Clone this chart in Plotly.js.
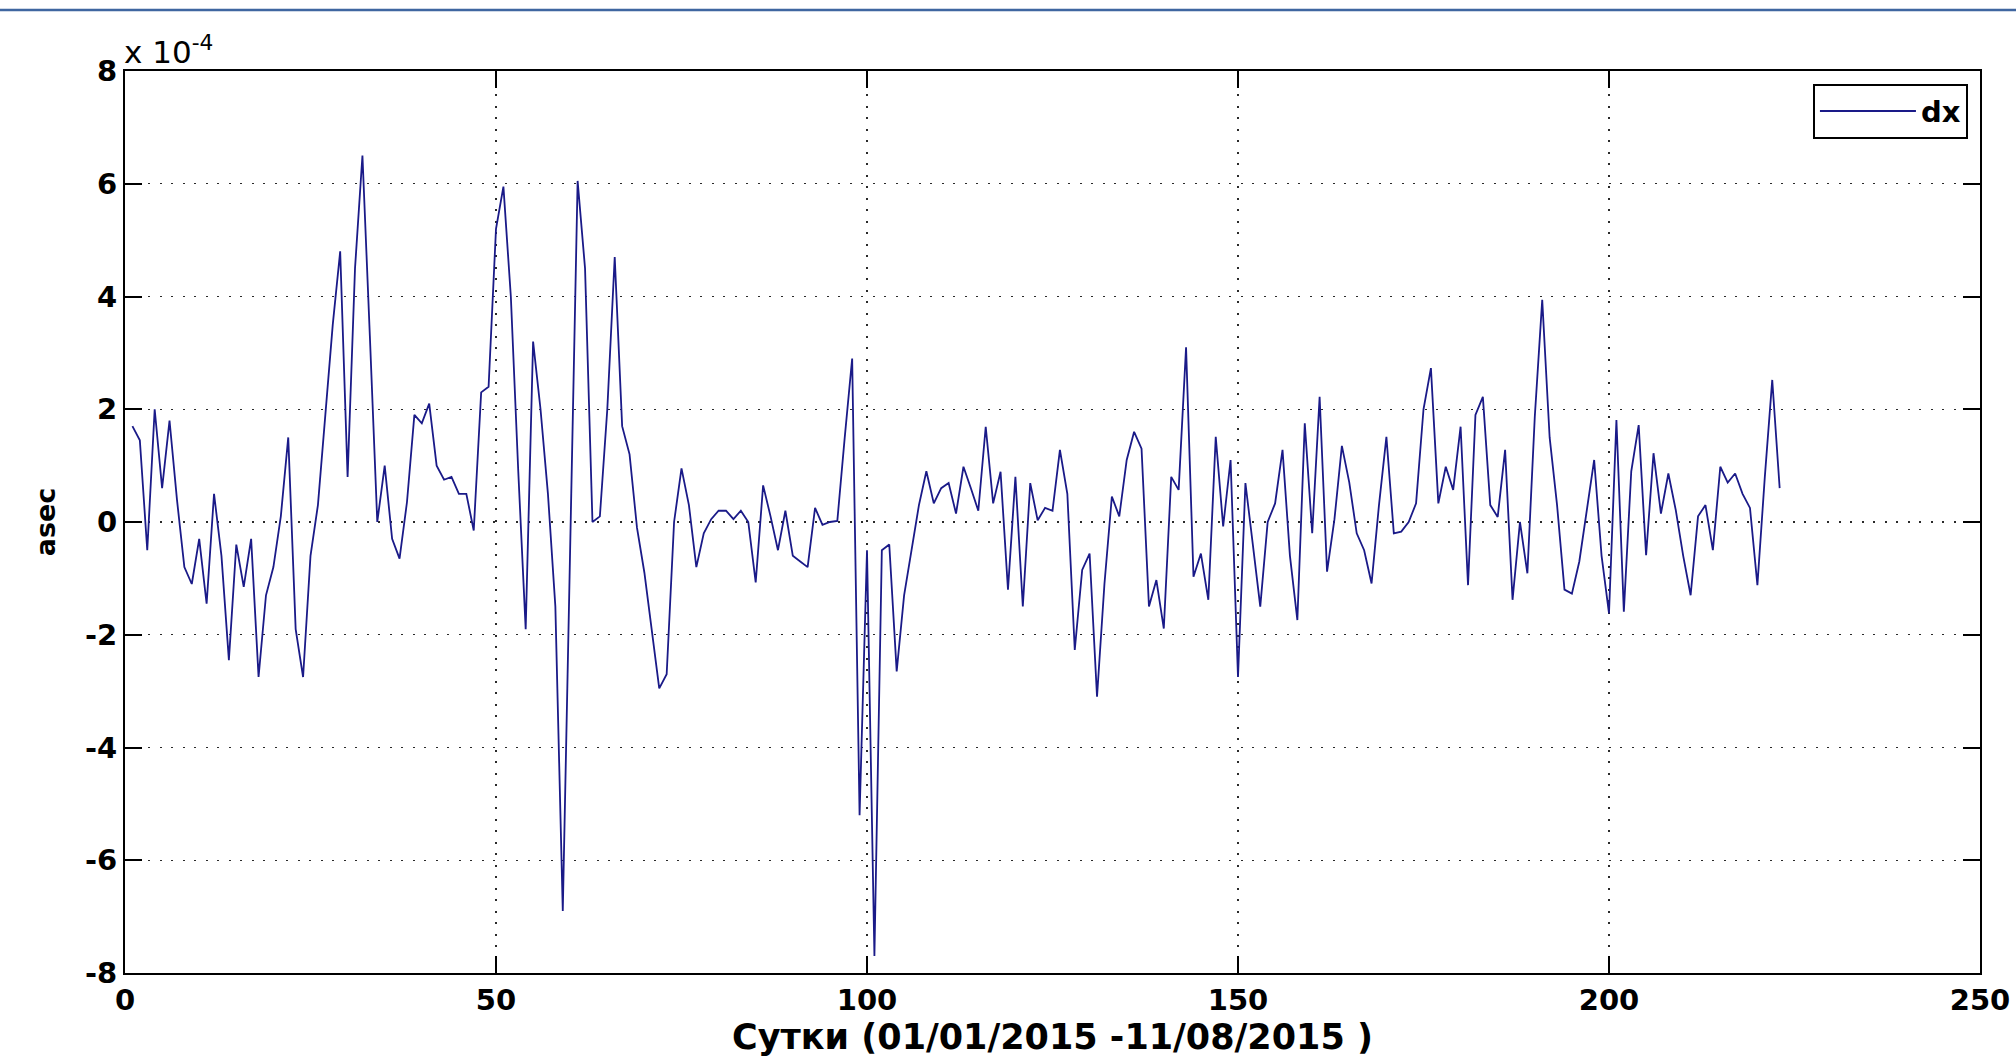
<!DOCTYPE html>
<html>
<head>
<meta charset="utf-8">
<script src="https://cdn.plot.ly/plotly-3.0.1.min.js"></script>
<style>
  html, body { margin: 0; padding: 0; background: #ffffff; }
  #chart { width: 2016px; height: 1063px; }
</style>
</head>
<body>
<div id="chart"></div>
<script>
// Day index (01/01/2015 .. 11/08/2015)
const days = [1,2,3,4,5,6,7,8,9,10,11,12,13,14,15,16,17,18,19,20,21,22,23,24,25,26,27,28,29,30,
31,32,33,34,35,36,37,38,39,40,41,42,43,44,45,46,47,48,49,50,51,52,53,54,55,56,57,58,59,60,
61,62,63,64,65,66,67,68,69,70,71,72,73,74,75,76,77,78,79,80,81,82,83,84,85,86,87,88,89,90,
91,92,93,94,95,96,97,98,99,100,101,102,103,104,105,106,107,108,109,110,111,112,113,114,115,116,117,118,119,120,
121,122,123,124,125,126,127,128,129,130,131,132,133,134,135,136,137,138,139,140,141,142,143,144,145,146,147,148,149,150,
151,152,153,154,155,156,157,158,159,160,161,162,163,164,165,166,167,168,169,170,171,172,173,174,175,176,177,178,179,180,
181,182,183,184,185,186,187,188,189,190,191,192,193,194,195,196,197,198,199,200,201,202,203,204,205,206,207,208,209,210,
211,212,213,214,215,216,217,218,219,220,221,222,223];

// dx values in units of 1e-4 asec
const dx = [
 1.7, 1.45, -0.5, 2.0, 0.6, 1.8, 0.4, -0.8, -1.1, -0.3,
 -1.45, 0.5, -0.6, -2.45, -0.4, -1.15, -0.3, -2.75, -1.3, -0.8,
 0.1, 1.5, -1.9, -2.75, -0.6, 0.3, 1.9, 3.5, 4.8, 0.8,
 4.5, 6.5, 3.3, 0.0, 1.0, -0.3, -0.65, 0.35, 1.9, 1.75,
 2.1, 1.0, 0.75, 0.8, 0.5, 0.5, -0.15, 2.3, 2.4, 5.2,
 5.95, 4.0, 0.9, -1.9, 3.2, 2.0, 0.5, -1.5, -6.9, -0.3,
 6.05, 4.5, 0.0, 0.1, 2.0, 4.7, 1.7, 1.2, -0.1, -0.9,
 -1.9, -2.95, -2.7, 0.0, 0.95, 0.3, -0.8, -0.2, 0.05, 0.2,
 0.2, 0.05, 0.2, 0.0, -1.07, 0.65, 0.1, -0.5, 0.2, -0.6,
 -0.7, -0.8, 0.25, -0.05, 0.0, 0.02, 1.5, 2.9, -5.2, -0.5,
 -7.7, -0.5, -0.4, -2.65, -1.3, -0.5, 0.3, 0.9, 0.33, 0.6,
 0.69, 0.15, 0.98, 0.6, 0.2, 1.69, 0.33, 0.89, -1.2, 0.8,
 -1.5, 0.69, 0.03, 0.25, 0.2, 1.28, 0.5, -2.27, -0.85, -0.56,
 -3.1, -1.1, 0.45, 0.1, 1.1, 1.6, 1.3, -1.5, -1.03, -1.89,
 0.8, 0.57, 3.1, -0.97, -0.56, -1.38, 1.51, -0.08, 1.1, -2.75,
 0.69, -0.4, -1.5, 0.0, 0.33, 1.28, -0.6, -1.74, 1.75, -0.2,
 2.22, -0.88, 0.05, 1.35, 0.7, -0.2, -0.5, -1.09, 0.3, 1.51,
 -0.2, -0.17, 0.0, 0.33, 2.0, 2.73, 0.33, 0.98, 0.57, 1.69,
 -1.12, 1.9, 2.22, 0.3, 0.09, 1.28, -1.38, 0.0, -0.91, 1.87,
 3.94, 1.5, 0.3, -1.2, -1.27, -0.7, 0.2, 1.1, -0.6, -1.62,
 1.81, -1.59, 0.9, 1.72, -0.59, 1.22, 0.15, 0.86, 0.21, -0.6,
 -1.3, 0.1, 0.3, -0.5, 0.98, 0.7, 0.86, 0.5, 0.25, -1.12,
 0.8, 2.52, 0.6
];

const xTicks = [0, 50, 100, 150, 200, 250];
const yTicks = [-8, -6, -4, -2, 0, 2, 4, 6, 8];
const seriesName = 'dx';
const xTitle = 'Сутки (01/01/2015 -11/08/2015 )';
const yTitle = 'asec';
const yScaleLabel = 'x 10<sup>-4</sup>';

const FONT = '"DejaVu Sans", "Liberation Sans", Arial, sans-serif';

const trace = {
  x: days,
  y: dx,
  type: 'scatter',
  mode: 'lines',
  name: seriesName,
  line: { color: '#1a1a88', width: 1.8 },
  hoverinfo: 'x+y'
};

const axisCommon = {
  showline: true,
  linecolor: '#000000',
  linewidth: 2,
  mirror: 'ticks',
  ticks: 'inside',
  ticklen: 17,
  tickwidth: 2,
  tickcolor: '#000000',
  showgrid: true,
  gridcolor: '#2a2a2a',
  gridwidth: 1.2,
  griddash: '2px,9.5px',
  zeroline: false,
  tickfont: { family: FONT, size: 29, color: '#000000', weight: 'bold' },
  automargin: false
};

const layout = {
  width: 2016,
  height: 1063,
  margin: { l: 125, r: 36, t: 71, b: 90 },
  paper_bgcolor: '#ffffff',
  plot_bgcolor: '#ffffff',
  font: { family: FONT, color: '#000000' },
  xaxis: Object.assign({}, axisCommon, {
    range: [0, 250],
    tickvals: xTicks,
    ticktext: xTicks.map(String),
    title: { text: xTitle, font: { family: FONT, size: 35, color: '#000', weight: 'bold' }, standoff: 0 }
  }),
  yaxis: Object.assign({}, axisCommon, {
    range: [-8, 8],
    tickvals: yTicks,
    ticktext: yTicks.map(String),
    title: { text: yTitle, font: { family: FONT, size: 27, color: '#000', weight: 'bold' }, standoff: 22 }
  }),
  showlegend: true,
  legend: {
    x: 0.9935, y: 0.986, xanchor: 'right', yanchor: 'top',
    bgcolor: '#ffffff',
    bordercolor: '#000000',
    borderwidth: 2,
    font: { family: FONT, size: 29, color: '#000', weight: 'bold' },
    itemwidth: 96
  },
  annotations: [{
    xref: 'paper', yref: 'paper',
    x: -0.001, y: 0.9995, xanchor: 'left', yanchor: 'bottom',
    text: yScaleLabel, showarrow: false, borderpad: 0,
    font: { family: FONT, size: 31, color: '#000' }
  }],
  shapes: [{
    type: 'line', xref: 'paper', yref: 'paper',
    x0: -0.07, x1: 1.02, y0: 1.0676, y1: 1.0676,
    line: { color: '#3f66a0', width: 2.5 }
  }]
};

Plotly.newPlot('chart', [trace], layout, { displayModeBar: false, staticPlot: true });
</script>
</body>
</html>
